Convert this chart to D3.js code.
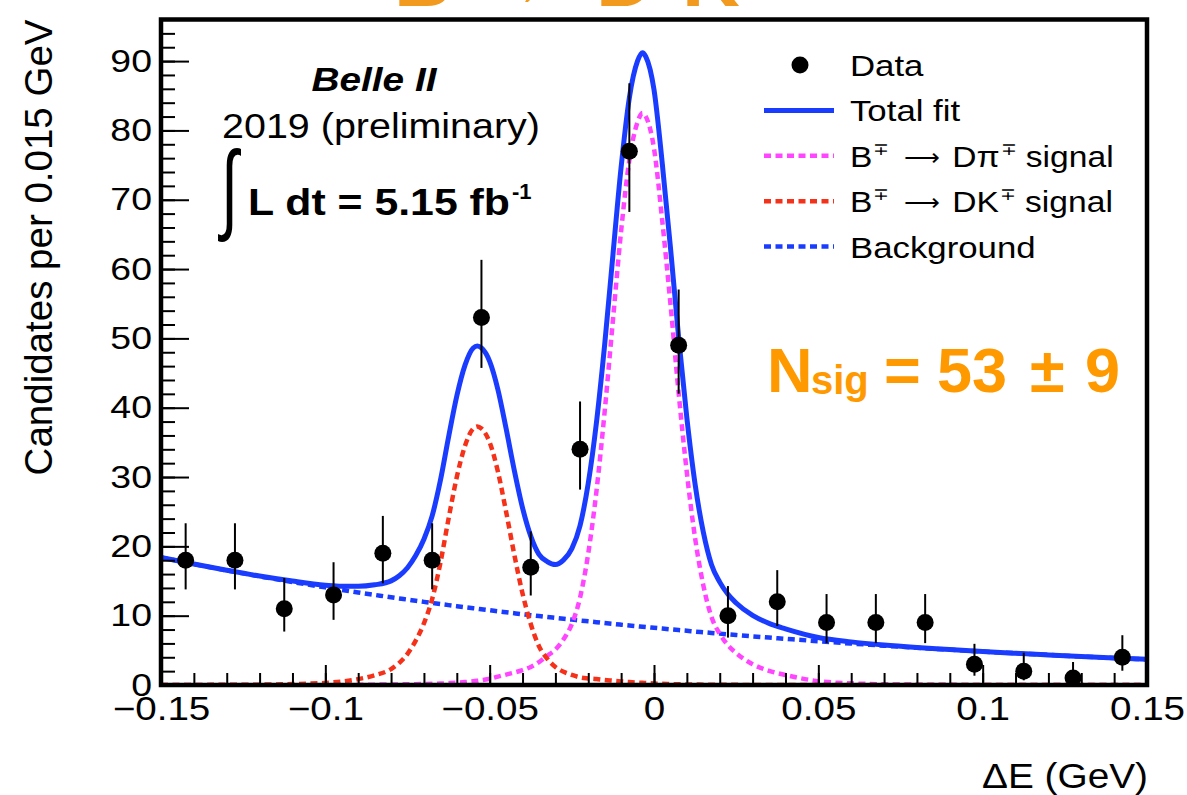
<!DOCTYPE html>
<html><head><meta charset="utf-8">
<script src="https://cdn.jsdelivr.net/npm/d3@7"></script>
<style>
body{margin:0;background:#fff}
svg{display:block}
text{font-family:"Liberation Sans",Arial,Helvetica,sans-serif;fill:#000}
.xl{transform-box:fill-box;transform-origin:50% 50%;transform:scaleX(1.17)}
.yl{transform-box:fill-box;transform-origin:100% 50%;transform:scaleX(1.17)}
.lg{transform-box:fill-box;transform-origin:0% 50%;transform:scaleX(1.16)}
.lg2{transform-box:fill-box;transform-origin:0% 50%;transform:scaleX(1.12)}
</style>
</head><body>
<svg id="c" width="1187" height="795"></svg>
<script>
// ---------------- data ----------------
const binCenters = [-0.1425,-0.1275,-0.1125,-0.0975,-0.0825,-0.0675,-0.0525,-0.0375,-0.0225,-0.0075,
                     0.0075, 0.0225, 0.0375, 0.0525, 0.0675, 0.0825, 0.0975, 0.1125, 0.1275, 0.1425];
const counts   = [18,18,11,13,19,18,53,17,34,77,49,10,12,9,9,9,3,2,1,4];
const errLow   = [13.79,13.79,7.71,9.4,14.67,13.79,45.74,12.91,28.19,68.24,42.02,6.84,8.5,6.04,6.04,6.04,1.34,0.68,0.13,2.06];
const errHigh  = [23.33,23.33,15.43,17.71,24.39,23.33,61.33,22.15,40.9,86.8,57.05,14.27,16.57,13.12,13.12,13.12,5.94,4.66,3.32,7.18];

const curveX = [-0.150,-0.140,-0.130,-0.120,-0.110,-0.100,-0.095,-0.090,-0.085,-0.080,
                -0.0775,-0.075,-0.0725,-0.070,-0.0675,-0.065,-0.0625,-0.060,-0.0575,-0.055,
                -0.05375,-0.0525,-0.050,-0.0475,-0.045,-0.0425,-0.040,-0.0375,-0.035,-0.0325,
                -0.030,-0.0275,-0.025,-0.0225,-0.020,-0.0175,-0.015,-0.0125,-0.010,-0.0075,
                -0.005,-0.0035,-0.0025,0.000,0.0025,0.005,0.0075,0.010,0.0125,0.015,
                0.0175,0.020,0.0225,0.025,0.030,0.035,0.040,0.050,0.060,0.070,
                0.080,0.090,0.100,0.110,0.120,0.130,0.140,0.150];
const background = [18.40,17.44,16.53,15.67,14.85,14.08,13.71,13.35,13.00,12.65,
                12.48,12.32,12.15,11.99,11.83,11.68,11.52,11.37,11.22,11.07,
                11.00,10.92,10.78,10.63,10.49,10.35,10.21,10.08,9.95,9.81,
                9.68,9.55,9.43,9.30,9.18,9.06,8.93,8.82,8.70,8.58,
                8.47,8.40,8.36,8.25,8.14,8.03,7.92,7.82,7.71,7.61,
                7.51,7.41,7.31,7.21,7.02,6.84,6.66,6.31,5.98,5.67,
                5.37,5.10,4.83,4.58,4.34,4.11,3.90,3.70];
const dkSignal = [0,0.01,0.03,0.05,0.14,0.30,0.50,0.85,1.40,2.30,
                3.20,4.50,6.40,8.90,12.4,17.6,24.0,30.0,34.5,37.0,
                37.3,37.0,35.0,30.8,25.0,18.8,13.2,8.8,5.6,3.8,
                2.6,1.9,1.45,1.1,0.95,0.85,0.72,0.62,0.52,0.43,
                0.35,0.31,0.28,0.22,0.17,0.13,0.10,0.08,0.06,0.05,
                0.04,0.03,0.02,0.02,0.01,0,0,0,0,0,
                0,0,0,0,0,0,0,0];
const dpiSignal = [0,0,0,0,0,0.01,0.02,0.03,0.05,0.07,
                0.08,0.10,0.12,0.14,0.17,0.21,0.26,0.32,0.42,0.55,
                0.60,0.70,0.90,1.20,1.50,1.80,2.15,2.60,3.30,4.2,
                5.1,6.6,8.8,12.6,19.0,28.0,39.5,52.6,65.5,75.7,
                81.2,82.5,82.0,77.4,67.0,55.0,42.1,30.6,21.2,14.4,
                9.8,7.4,5.75,4.6,3.0,2.05,1.45,0.55,0.24,0.10,
                0.05,0.02,0,0,0,0,0,0];
const totalFit = [18.40,17.45,16.56,15.72,14.99,14.39,14.23,14.23,14.45,15.02,
                15.76,16.92,18.67,21.03,24.40,29.49,35.78,41.69,46.14,48.62,
                48.90,48.62,46.68,42.63,36.99,30.95,25.56,21.48,18.85,17.81,
                17.38,18.05,19.68,23.00,29.13,37.91,49.15,62.04,74.72,84.71,
                90.02,91.21,90.64,85.87,75.31,63.16,50.12,38.50,28.97,22.06,
                17.35,14.84,13.08,11.83,10.03,8.89,8.11,6.86,6.22,5.77,
                5.42,5.12,4.83,4.58,4.34,4.11,3.90,3.70];

const xTickVals = [-0.15,-0.1,-0.05,0,0.05,0.1,0.15];
const xTickLabels = ["\u22120.15","\u22120.1","\u22120.05","0","0.05","0.1","0.15"];
const yTickVals = [0,10,20,30,40,50,60,70,80,90];
const yTickLabels = ["0","10","20","30","40","50","60","70","80","90"];
const legendLabels = ["Data","Total fit","B^{\u2213} \u2192 D\u03C0^{\u2213} signal","B^{\u2213} \u2192 DK^{\u2213} signal","Background"];

// ---------------- layout ----------------
const C_BLUE = "#1a3cff", C_PINK = "#ff45ff", C_RED = "#f5311a", C_ORANGE = "#ff9900";
const svg = d3.select("#c");
const L = 161, R = 1147, T = 19.5, B = 685;
const x = d3.scaleLinear().domain([-0.15,0.15]).range([L,R]);
const y = d3.scaleLinear().domain([0,96]).range([B,T]);

svg.append("defs").append("clipPath").attr("id","clip")
  .append("rect").attr("x",L).attr("y",T).attr("width",R-L).attr("height",B-T);

// title (cut off at the top, as in the source)
const ttl = svg.append("text").attr("y",6).attr("font-size",80).attr("font-weight","bold").style("fill","#f29a1e");
ttl.append("tspan").attr("x",394).text("B");
ttl.append("tspan").attr("x",475).text("\u2192");
ttl.append("tspan").attr("x",596).text("D");
ttl.append("tspan").attr("x",682).text("K");

// curves
const pts = arr => curveX.map((cx,i)=>[cx,arr[i]]);
const line = d3.line().x(d=>x(d[0])).y(d=>y(d[1])).curve(d3.curveMonotoneX);
const cg = svg.append("g").attr("clip-path","url(#clip)");
cg.append("path").attr("d",line(pts(background))).attr("fill","none").attr("stroke",C_BLUE).attr("stroke-width",4.5).attr("stroke-dasharray","7,4.5");
cg.append("path").attr("d",line(pts(dpiSignal))).attr("fill","none").attr("stroke",C_PINK).attr("stroke-width",4.5).attr("stroke-dasharray","7,4.5");
cg.append("path").attr("d",line(pts(dkSignal))).attr("fill","none").attr("stroke",C_RED).attr("stroke-width",4.5).attr("stroke-dasharray","7,4.5");
cg.append("path").attr("d",line(pts(totalFit))).attr("fill","none").attr("stroke",C_BLUE).attr("stroke-width",5);

// data points
const dg = svg.append("g");
dg.selectAll("line.err").data(binCenters).join("line")
  .attr("x1",d=>x(d)).attr("x2",d=>x(d))
  .attr("y1",(d,i)=>y(errLow[i])).attr("y2",(d,i)=>y(errHigh[i]))
  .attr("stroke","#000").attr("stroke-width",2);
dg.selectAll("circle").data(binCenters).join("circle")
  .attr("cx",d=>x(d)).attr("cy",(d,i)=>y(counts[i])).attr("r",8.5).attr("fill","#000");

// axes
const yMaj = d3.axisLeft(y).tickValues(yTickVals).tickSize(-28).tickPadding(9)
  .tickFormat((d,i)=>yTickLabels[i]);
const yAx = svg.append("g").attr("transform",`translate(${L},0)`).call(yMaj);
yAx.select(".domain").remove();
yAx.selectAll("line").attr("stroke-width",2);
yAx.selectAll("text").attr("font-size",32).attr("font-family","Liberation Sans, Arial").attr("class","yl");
const yMin = d3.axisLeft(y).tickValues(d3.range(0,96.1,2)).tickSize(-14).tickFormat("");
const yAx2 = svg.append("g").attr("transform",`translate(${L},0)`).call(yMin);
yAx2.select(".domain").remove(); yAx2.selectAll("line").attr("stroke-width",2);

const xMaj = d3.axisBottom(x).tickValues(xTickVals).tickSize(-20).tickPadding(12)
  .tickFormat((d,i)=>xTickLabels[i]);
const xAx = svg.append("g").attr("transform",`translate(0,${B})`).call(xMaj);
xAx.select(".domain").remove();
xAx.selectAll("line").attr("stroke-width",2);
xAx.selectAll("text").attr("font-size",33).attr("font-family","Liberation Sans, Arial").attr("class","xl");
const xMin = d3.axisBottom(x).tickValues(d3.range(-0.15,0.1501,0.01)).tickSize(-12).tickFormat("");
const xAx2 = svg.append("g").attr("transform",`translate(0,${B})`).call(xMin);
xAx2.select(".domain").remove(); xAx2.selectAll("line").attr("stroke-width",2);

// frame
svg.append("rect").attr("x",L).attr("y",T).attr("width",R-L).attr("height",B-T)
  .attr("fill","none").attr("stroke","#000").attr("stroke-width",4.5);

// axis titles
svg.append("text").attr("transform",`translate(52,${T}) rotate(-90)`).attr("text-anchor","end")
  .attr("font-size",38.5).text("Candidates per 0.015 GeV");
svg.append("text").attr("x",1148).attr("y",788).attr("text-anchor","end").attr("font-size",35)
  .attr("textLength",166).attr("lengthAdjust","spacingAndGlyphs").text("\u0394E (GeV)");

// legend
const rowY = [65,110.4,155.8,201.2,246.6];
const lg = svg.append("g");
lg.append("circle").attr("cx",800).attr("cy",rowY[0]).attr("r",8.5).attr("fill","#000");
lg.append("line").attr("x1",764).attr("x2",834).attr("y1",rowY[1]).attr("y2",rowY[1]).attr("stroke",C_BLUE).attr("stroke-width",5);
[[C_PINK,2],[C_RED,3],[C_BLUE,4]].forEach(([c,i])=>{
  lg.append("line").attr("x1",764).attr("x2",834).attr("y1",rowY[i]).attr("y2",rowY[i])
    .attr("stroke",c).attr("stroke-width",4.5).attr("stroke-dasharray","7,4.5");
});
const FS = 30;
legendLabels.forEach((s,i)=>{
  const base = rowY[i]+11;
  let cx = 850;
  const parts = s.split(/\s*(\u2192)\s*|(\^\{[^}]*\})/).filter(p=>p!==undefined && p.length);
  const hasArrow = parts.includes("\u2192");
  const cls = hasArrow ? "lg2" : "lg", SX = hasArrow ? 1.12 : 1.16;
  parts.forEach(p=>{
    if(p === "\u2192"){
      const ax = cx + 15;
      lg.append("text").attr("x",ax).attr("y",base-1).attr("font-size",25)
        .attr("font-family","DejaVu Sans").text("\u27F6");
      cx = ax + 48;
    } else if(p.startsWith("^{")){
      const t = lg.append("text").attr("x",cx+1).attr("y",base-12).attr("font-size",17).attr("class",cls).text(p.slice(2,-1));
      cx += t.node().getComputedTextLength()*SX + 1;
    } else {
      const t = lg.append("text").attr("x",cx).attr("y",base).attr("font-size",FS).attr("class",cls)
        .style("white-space","pre").text(p);
      cx += t.node().getComputedTextLength()*SX;
    }
  });
});

// annotations
svg.append("text").attr("x",374).attr("y",91).attr("text-anchor","middle").attr("font-size",34)
  .attr("font-weight","bold").attr("font-style","italic")
  .attr("textLength",125).attr("lengthAdjust","spacingAndGlyphs").text("Belle II");
svg.append("text").attr("x",222).attr("y",138).attr("font-size",35)
  .attr("textLength",318).attr("lengthAdjust","spacingAndGlyphs").text("2019 (preliminary)");
svg.append("text").attr("transform","translate(221,221) scale(1,1.6)").attr("font-size",62)
  .attr("font-family","DejaVu Sans").text("\u222B");
svg.append("text").attr("x",248).attr("y",215).attr("font-size",37).attr("font-weight","bold")
  .attr("textLength",262).attr("lengthAdjust","spacingAndGlyphs").text("L dt = 5.15 fb");
svg.append("text").attr("x",512).attr("y",199).attr("font-size",22).attr("font-weight","bold").text("-1");

// N_sig
const ns = svg.append("text").attr("font-weight","bold").style("fill",C_ORANGE);
ns.append("tspan").attr("x",767).attr("y",392).attr("font-size",63).text("N");
ns.append("tspan").attr("x",811).attr("y",394).attr("font-size",40).text("sig");
ns.append("tspan").attr("x",884).attr("y",392).attr("font-size",63).text("=");
ns.append("tspan").attr("x",937).attr("y",392).attr("font-size",63).text("53");
ns.append("tspan").attr("x",1030).attr("y",392).attr("font-size",63).text("\u00B1");
ns.append("tspan").attr("x",1085).attr("y",392).attr("font-size",63).text("9");
</script>
</body></html>
